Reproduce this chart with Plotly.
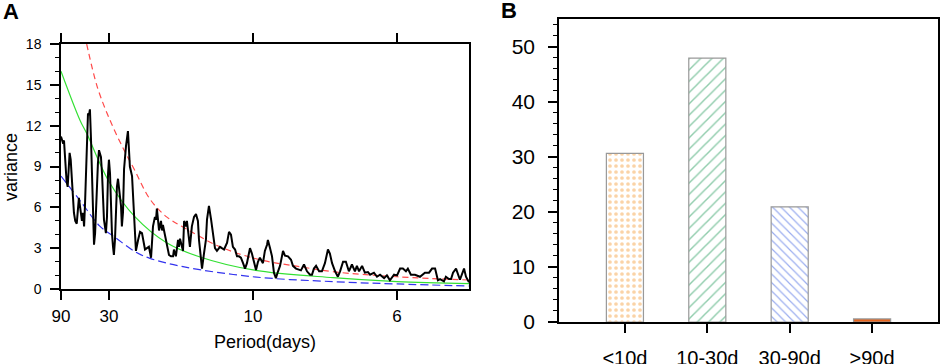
import plotly.graph_objects as go

# ---- panel A: power spectrum (x = frequency, cycles/day) ----
spec_freq = [
    0.0111, 0.0119, 0.0125, 0.0131, 0.0137, 0.0142, 0.0147, 0.0151, 0.0156, 0.0165,
    0.0171, 0.0177, 0.0184, 0.0194, 0.0204, 0.0208, 0.0213, 0.0218, 0.0222, 0.0227,
    0.0231, 0.0236, 0.0241, 0.0245, 0.0250, 0.0255, 0.0259, 0.0264, 0.0269, 0.0273,
    0.0278, 0.0282, 0.0287, 0.0296, 0.0301, 0.0306, 0.0310, 0.0319, 0.0324, 0.0329,
    0.0333, 0.0338, 0.0343, 0.0347, 0.0352, 0.0356, 0.0361, 0.0366, 0.0370, 0.0375,
    0.0384, 0.0389, 0.0393, 0.0398, 0.0403, 0.0407, 0.0412, 0.0421, 0.0426, 0.0430,
    0.0440, 0.0444, 0.0449, 0.0454, 0.0458, 0.0468, 0.0477, 0.0486, 0.0495, 0.0500,
    0.0509, 0.0518, 0.0528, 0.0532, 0.0537, 0.0546, 0.0551, 0.0555, 0.0560, 0.0565,
    0.0574, 0.0579, 0.0583, 0.0593, 0.0602, 0.0611, 0.0620, 0.0630, 0.0634, 0.0643,
    0.0653, 0.0657, 0.0662, 0.0671, 0.0676, 0.0681, 0.0690, 0.0694, 0.0704, 0.0708,
    0.0717, 0.0727, 0.0736, 0.0745, 0.0750, 0.0759, 0.0764, 0.0773, 0.0782, 0.0787,
    0.0796, 0.0806, 0.0815, 0.0824, 0.0833, 0.0847, 0.0856, 0.0866, 0.0880, 0.0889,
    0.0898, 0.0907, 0.0917, 0.0926, 0.0935, 0.0944, 0.0954, 0.0963, 0.0972, 0.0986,
    0.0995, 0.1005, 0.1014, 0.1023, 0.1032, 0.1046, 0.1055, 0.1065, 0.1069, 0.1079,
    0.1088, 0.1097, 0.1106, 0.1116, 0.1125, 0.1134, 0.1139, 0.1148, 0.1162, 0.1176,
    0.1185, 0.1199, 0.1213, 0.1222, 0.1236, 0.1250, 0.1264, 0.1273, 0.1282, 0.1292,
    0.1306, 0.1319, 0.1333, 0.1343, 0.1347, 0.1356, 0.1366, 0.1380, 0.1393, 0.1403,
    0.1417, 0.1430, 0.1444, 0.1458, 0.1472, 0.1481, 0.1491, 0.1505, 0.1518, 0.1532,
    0.1542, 0.1560, 0.1574, 0.1588, 0.1607, 0.1620, 0.1634, 0.1653, 0.1667, 0.1681,
    0.1694, 0.1708, 0.1717, 0.1731, 0.1750, 0.1773, 0.1796, 0.1815, 0.1829, 0.1843,
    0.1856, 0.1866, 0.1884, 0.1893, 0.1907, 0.1917, 0.1926, 0.1940, 0.1954, 0.1958,
    0.1977, 0.1986, 0.2000,
]
spec_var = [
    11.2, 10.8, 10.9, 9.0, 7.9, 7.5, 8.5, 10.0, 9.5, 7.0,
    5.6, 5.0, 4.8, 6.7, 5.3, 5.0, 5.6, 4.6, 6.1, 8.5,
    11.9, 12.9, 12.8, 13.2, 11.0, 7.5, 4.6, 3.25, 4.1, 6.1,
    7.5, 9.2, 10.2, 9.7, 8.5, 6.3, 5.1, 4.1, 5.3, 8.5,
    9.5, 8.5, 5.6, 4.1, 3.1, 2.5, 3.6, 5.6, 7.5, 8.1,
    7.0, 6.1, 4.6, 5.6, 8.8, 10.0, 10.5, 11.6, 10.5, 9.0,
    8.3, 7.0, 5.6, 3.6, 2.8, 3.6, 4.2, 4.1, 3.4, 2.9,
    3.0, 3.1, 2.3, 3.1, 4.6, 5.3, 5.1, 5.9, 5.1, 4.3,
    5.0, 4.3, 4.7, 3.9, 3.0, 2.5, 2.4, 2.4, 2.9, 2.4,
    3.6, 3.1, 3.7, 3.1, 2.8, 5.0, 4.6, 5.0, 3.4, 3.1,
    4.6, 5.3, 5.5, 5.0, 3.6, 1.9, 1.5, 2.6, 3.6, 5.1,
    6.1, 5.1, 4.2, 3.0, 2.8, 3.1, 3.0, 2.9, 3.4, 4.2,
    4.0, 3.1, 2.9, 2.4, 2.4, 2.3, 1.9, 1.5, 1.9, 3.0,
    2.6, 1.9, 1.4, 2.0, 2.3, 1.9, 2.8, 3.25, 3.6, 3.0,
    2.4, 1.2, 0.8, 1.3, 1.7, 2.4, 2.8, 2.45, 2.4, 2.15,
    1.7, 1.5, 1.4, 1.37, 1.8, 1.3, 1.05, 1.05, 1.5, 1.7,
    1.3, 1.3, 1.9, 2.6, 2.9, 2.6, 1.9, 1.3, 0.9, 1.3,
    2.0, 2.0, 1.3, 1.8, 1.3, 1.7, 1.3, 1.7, 1.2, 1.25,
    1.05, 1.2, 0.9, 1.05, 0.8, 1.0, 0.64, 1.05, 1.0, 1.5,
    1.5, 1.3, 1.5, 1.05, 1.05, 0.9, 1.2, 1.2, 1.5, 1.5,
    0.64, 0.73, 0.56, 0.9, 0.73, 0.73, 1.2, 1.5, 0.8, 0.68,
    1.5, 0.9, 0.5,
]

# red-noise reference curves
upper_freq = [0.0230, 0.0280, 0.0338, 0.0400, 0.0450, 0.0523, 0.0600, 0.0693,
              0.0847, 0.1032, 0.1218, 0.1370, 0.1667, 0.2000]
upper_var = [18.0, 14.8, 12.4, 10.3, 8.8, 6.6, 5.3, 4.4, 3.1, 2.15, 1.64, 1.27, 0.90, 0.66]

mean_freq = [0.0111, 0.0199, 0.0231, 0.0333, 0.0454, 0.0600, 0.0755, 0.1000,
             0.1370, 0.1667, 0.2000]
mean_var = [16.0, 12.4, 11.4, 7.9, 5.3, 3.4, 2.35, 1.40, 0.83, 0.54, 0.40]

lower_freq = [0.0111, 0.0199, 0.0292, 0.0361, 0.0454, 0.0523, 0.0676, 0.1000,
              0.1370, 0.1667, 0.2000]
lower_var = [8.3, 6.5, 4.6, 3.8, 2.74, 2.25, 1.64, 0.90, 0.54, 0.37, 0.22]

period_ticks = [90, 30, 10, 6]

# ---- panel B: share by period band ----
bands = ["<10d", "10-30d", "30-90d", ">90d"]
band_pct = [30.6, 47.9, 20.9, 0.55]
band_colors = ["#f5a850", "#229a5a", "#3a5ee0", "#e8641c"]
band_shapes = [".", "/", "\\", ""]

FONT = "Liberation Sans, Arial, Helvetica, sans-serif"
W, H = 941, 364

fig = go.Figure()

fig.add_trace(go.Scatter(
    x=upper_freq, y=upper_var, mode="lines", line_shape="spline",
    line=dict(color="#ff4a4a", width=1.2, dash="6px,4px"),
    xaxis="x", yaxis="y",
))
fig.add_trace(go.Scatter(
    x=mean_freq, y=mean_var, mode="lines", line_shape="spline",
    line=dict(color="#33e033", width=1.2),
    xaxis="x", yaxis="y",
))
fig.add_trace(go.Scatter(
    x=lower_freq, y=lower_var, mode="lines", line_shape="spline",
    line=dict(color="#3333ee", width=1.2, dash="8px,4px"),
    xaxis="x", yaxis="y",
))
fig.add_trace(go.Scatter(
    x=spec_freq, y=spec_var, mode="lines",
    line=dict(color="black", width=2),
    xaxis="x", yaxis="y",
))

# one trace per bar so each gets its own fill pattern
pattern_size = {".": 6, "/": 8, "\\": 6}
pattern_solid = {".": 0.3, "/": 0.18, "\\": 0.2}
for band, pct, col, shp in zip(bands, band_pct, band_colors, band_shapes):
    if shp:
        marker = dict(
            color="white",
            line=dict(color="#999999", width=1.2),
            pattern=dict(shape=shp, fgcolor=col, bgcolor="white",
                         fillmode="overlay",
                         size=pattern_size[shp],
                         solidity=pattern_solid[shp]),
        )
    else:
        marker = dict(color=col, line=dict(color="#999999", width=1.2))
    fig.add_trace(go.Bar(x=[band], y=[pct], width=0.45, marker=marker,
                         xaxis="x2", yaxis="y2"))

axis_common = dict(
    showgrid=False, zeroline=False, showline=True, linecolor="black",
    linewidth=1.5, ticks="outside", tickcolor="black", tickwidth=1.5,
    automargin=False,
)

fig.update_layout(
    width=W,
    height=H,
    margin=dict(l=0, r=0, t=0, b=0),
    paper_bgcolor="white",
    plot_bgcolor="white",
    showlegend=False,
    barmode="overlay",
    font=dict(family=FONT, color="black"),
    xaxis=dict(
        **axis_common,
        domain=[61 / W, 469 / W],
        anchor="y",
        range=[1 / 90, 0.2],
        tickvals=[1 / p for p in period_ticks],
        ticktext=[str(p) for p in period_ticks],
        ticklen=9,
        mirror="ticks",
        tickfont=dict(size=17),
        ticklabelstandoff=2,
    ),
    yaxis=dict(
        **axis_common,
        domain=[1 - 289 / H, 1 - 44 / H],
        anchor="x",
        range=[0, 18],
        dtick=3,
        ticklen=9,
        mirror=True,
        tickfont=dict(size=14),
        ticklabelstandoff=6,
        minor=dict(dtick=1, ticks="outside", ticklen=4, tickcolor="black", tickwidth=1),
    ),
    xaxis2=dict(
        **axis_common,
        domain=[559 / W, 938 / W],
        anchor="y2",
        type="category",
        categoryorder="array",
        categoryarray=bands,
        range=[-0.8, 3.8],
        ticklen=9,
        mirror=True,
        tickfont=dict(size=20),
        ticklabelstandoff=8,
    ),
    yaxis2=dict(
        **axis_common,
        domain=[1 - 322 / H, 1 - 19 / H],
        anchor="x2",
        range=[0, 55],
        dtick=10,
        ticklen=9,
        mirror=True,
        tickfont=dict(size=21),
        ticklabelstandoff=9,
        minor=dict(dtick=2, ticks="outside", ticklen=4, tickcolor="black", tickwidth=1),
    ),
    annotations=[
        dict(text="<b>A</b>", x=1 / W, y=1 - 12 / H, xref="paper", yref="paper",
             showarrow=False, xanchor="left", yanchor="middle",
             font=dict(size=22)),
        dict(text="<b>B</b>", x=499 / W, y=1 - 10 / H, xref="paper", yref="paper",
             showarrow=False, xanchor="left", yanchor="middle",
             font=dict(size=22)),
        dict(text="Period(days)", x=265 / W, y=1 - 342 / H, xref="paper", yref="paper",
             showarrow=False, xanchor="center", yanchor="middle",
             font=dict(size=18)),
        dict(text="variance", x=11 / W, y=1 - 167 / H, xref="paper", yref="paper",
             showarrow=False, xanchor="center", yanchor="middle", textangle=-90,
             font=dict(size=18)),
    ],
)

# drop the browser's default 8px body margin so the figure sits at the page origin
fig.write_html(
    "out.html",
    config={"displayModeBar": False},
    post_script="document.body.style.margin='0';",
)
